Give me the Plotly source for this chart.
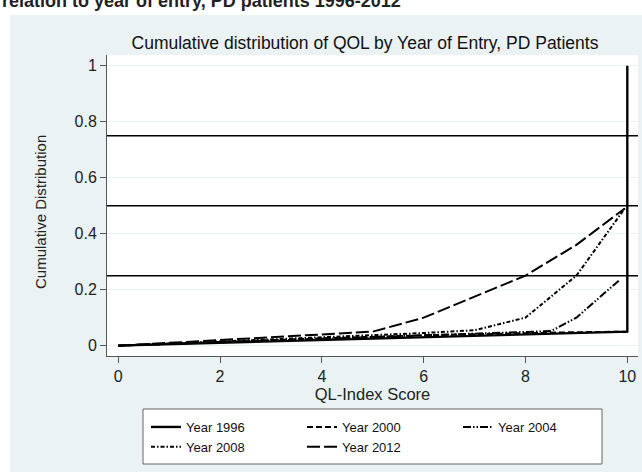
import plotly.graph_objects as go

# ---- data ----
series_names = ["Year 1996", "Year 2000", "Year 2004", "Year 2008", "Year 2012"]

x_1996 = [0, 2, 4, 6, 8, 9.95, 10, 10]
y_1996 = [0, 0.01, 0.02, 0.03, 0.04, 0.05, 0.05, 1.0]

x_2000 = [0, 2, 4, 6, 8, 9, 10]
y_2000 = [0, 0.014, 0.026, 0.037, 0.045, 0.048, 0.05]

x_2004 = [0, 2, 4, 6, 7, 8, 8.5, 9, 9.85]
y_2004 = [0, 0.012, 0.025, 0.035, 0.042, 0.047, 0.052, 0.10, 0.235]

x_2008 = [0, 2, 4, 5, 6, 7, 8, 9, 9.95]
y_2008 = [0, 0.015, 0.03, 0.035, 0.045, 0.055, 0.10, 0.25, 0.49]

x_2012 = [0, 1, 2, 3, 4, 5, 6, 7, 8, 9, 9.95]
y_2012 = [0, 0.01, 0.02, 0.03, 0.04, 0.05, 0.10, 0.175, 0.25, 0.36, 0.49]

ref_lines = [0.25, 0.5, 0.75]

x_ticks = [0, 2, 4, 6, 8, 10]
y_ticks = [0, 0.2, 0.4, 0.6, 0.8, 1]
y_tick_labels = ["0", "0.2", "0.4", "0.6", "0.8", "1"]

xs = [x_1996, x_2000, x_2004, x_2008, x_2012]
ys = [y_1996, y_2000, y_2004, y_2008, y_2012]
dashes = ["solid", "6px,3px", "8px,2px,1.5px,2px,1.5px,2px", "4px,2px,1.5px,2px", "13px,4px"]
widths = [2.4, 2, 2, 2, 2]

BG = "#eaf2f3"
FONT = "Liberation Sans, Arial, sans-serif"

L, R, T, B = 107, 4, 55, 116
PW = 642 - L - R
PH = 472 - T - B
PLOT_BOTTOM = 472 - B


def px_to_paper_y(py):
    return (PLOT_BOTTOM - py) / PH


def px_to_paper_x(px):
    return (px - L) / PW


fig = go.Figure()
for name, x, y, d, w in zip(series_names, xs, ys, dashes, widths):
    fig.add_trace(go.Scatter(x=x, y=y, mode="lines", name=name,
                             line=dict(color="black", width=w, dash=d)))

shapes = [
    dict(type="rect", xref="paper", yref="paper", x0=-1, x1=2, y0=px_to_paper_y(15), y1=2,
         fillcolor="white", line=dict(width=0), layer="below"),
    dict(type="rect", xref="paper", yref="paper", x0=-1, x1=px_to_paper_x(10), y0=-1, y1=2,
         fillcolor="white", line=dict(width=0), layer="below"),
    # legend frame
    dict(type="rect", xref="paper", yref="paper", x0=px_to_paper_x(143), x1=px_to_paper_x(602),
         y0=px_to_paper_y(464), y1=px_to_paper_y(409),
         fillcolor="white", line=dict(width=1, color="#666"), layer="below"),
]
for v in ref_lines:
    shapes.append(dict(type="line", xref="paper", yref="y", x0=0, x1=1, y0=v, y1=v,
                       line=dict(color="black", width=1.5)))

fig.update_layout(
    width=642, height=472,
    margin=dict(l=L, r=R, t=T, b=B, autoexpand=False),
    paper_bgcolor=BG, plot_bgcolor="white",
    font=dict(family=FONT, color="#222"),
    title=dict(text="Cumulative distribution of QOL by Year of Entry, PD Patients",
               x=365 / 642, xanchor="center", y=1 - 43 / 472, yanchor="middle",
               font=dict(size=17.5, color="#111")),
    shapes=shapes,
    showlegend=True,
    legend=dict(orientation="h", x=px_to_paper_x(146), y=px_to_paper_y(412),
                xanchor="left", yanchor="top", bgcolor="rgba(0,0,0,0)",
                borderwidth=0, entrywidth=111, entrywidthmode="pixels",
                font=dict(size=13, color="#111"), traceorder="normal"),
    annotations=[
        dict(text="<b>relation to year of entry, PD patients 1996-2012</b>",
             xref="paper", yref="paper", x=px_to_paper_x(0), y=px_to_paper_y(13),
             xanchor="left", yanchor="bottom", showarrow=False,
             font=dict(size=18, color="#222", family=FONT)),
        dict(text="Cumulative Distribution", textangle=-90,
             xref="paper", yref="paper", x=px_to_paper_x(40), y=px_to_paper_y(212),
             xanchor="center", yanchor="middle", showarrow=False,
             font=dict(size=15, color="#222", family=FONT)),
    ],
)
fig.update_xaxes(range=[-0.22, 10.21], tickvals=x_ticks, ticks="outside", ticklen=6,
                 tickcolor="#555", showline=True, linecolor="#555", linewidth=1,
                 showgrid=False, zeroline=False, tickfont=dict(size=16), automargin=False,
                 title=dict(text="QL-Index Score", font=dict(size=16.5), standoff=0))
fig.update_yaxes(range=[-0.037, 1.038], tickvals=y_ticks, ticktext=y_tick_labels,
                 ticks="outside", ticklen=6, tickcolor="#555", showline=True,
                 linecolor="#555", linewidth=1, showgrid=True, gridcolor=BG, gridwidth=1,
                 zeroline=False, tickfont=dict(size=16), automargin=False)

fig.write_html("out.html", config={"displayModeBar": False},
               post_script="document.body.style.margin='0px';")
